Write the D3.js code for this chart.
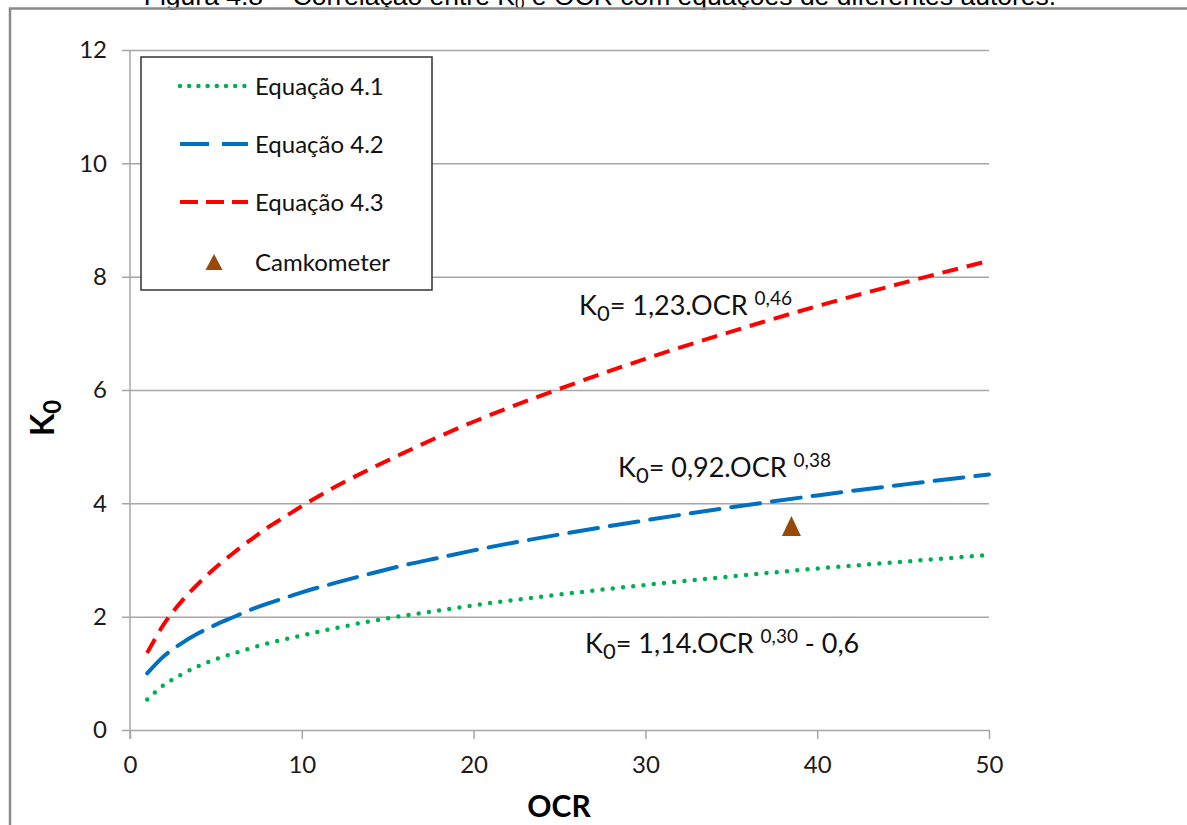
<!DOCTYPE html>
<html><head><meta charset="utf-8">
<script src="https://cdn.jsdelivr.net/npm/d3@7"></script>
<style>body{margin:0;background:#fff}svg{display:block}</style>
</head><body>
<svg id="c" width="1187" height="825"></svg>
<script>
// ---- data ----
const ocr   = [1, 2, 3, 4, 5, 6, 7, 8, 9, 10, 12, 14, 16, 18, 20, 25, 30, 35, 40, 45, 50];
const eq41  = [0.54, 0.80, 0.98, 1.13, 1.25, 1.35, 1.44, 1.53, 1.60, 1.67, 1.80, 1.92, 2.02, 2.11, 2.20, 2.39, 2.56, 2.71, 2.85, 2.97, 3.09];
const eq42  = [1.00, 1.31, 1.53, 1.71, 1.86, 1.99, 2.12, 2.23, 2.33, 2.43, 2.60, 2.76, 2.91, 3.04, 3.17, 3.45, 3.70, 3.93, 4.14, 4.33, 4.51];
const eq43  = [1.36, 1.88, 2.27, 2.59, 2.87, 3.12, 3.35, 3.57, 3.76, 3.95, 4.30, 4.61, 4.90, 5.18, 5.44, 6.02, 6.55, 7.03, 7.48, 7.89, 8.28];
const camOCR = [38.5];
const camK0  = [3.6];
const xTicks = [0, 10, 20, 30, 40, 50];
const yTicks = [0, 2, 4, 6, 8, 10, 12];
const legendLabels = ["Equação 4.1", "Equação 4.2", "Equação 4.3", "Camkometer"];

const svg = d3.select("#c");
const W = 1187, H = 825;
const FONT = "Lato, 'Open Sans', sans-serif";
svg.append("rect").attr("width", W).attr("height", H).attr("fill", "#fff");

const x = d3.scaleLinear().domain([0, 50]).range([130, 989]);
const y = d3.scaleLinear().domain([0, 12]).range([730, 50]);

// title (cut off at top, as in the reference)
const t = svg.append("text").attr("x", 600).attr("y", 5).attr("text-anchor", "middle")
  .style("font-family", "'Liberation Sans', Arial, sans-serif").style("font-size", "26.5px").attr("fill", "#000");
t.append("tspan").text("Figura 4.8 – Correlação entre K");
t.append("tspan").attr("dy", 4).style("font-size", "17px").text("0");
t.append("tspan").attr("dy", -4).text(" e OCR com equações de diferentes autores.");

// outer frame
svg.append("path").attr("d", "M10,825V8.5H1187").attr("fill", "none")
  .attr("stroke", "#8a8a8a").attr("stroke-width", 2.5);

// y grid + labels
const gy = svg.append("g").attr("transform", "translate(989,0)")
  .call(d3.axisLeft(y).tickValues(yTicks).tickSize(989 - 122).tickPadding(15).tickFormat(d3.format("d")));
gy.select(".domain").remove();
gy.selectAll("line").attr("stroke", "#a6a6a6").attr("stroke-width", 1.5);
gy.selectAll("text").style("font-family", FONT).style("font-size", "24px").attr("fill", "#1a1a1a");

// x ticks + labels
const gx = svg.append("g").attr("transform", "translate(0,730)")
  .call(d3.axisBottom(x).tickValues(xTicks).tickSize(9).tickPadding(17).tickFormat(d3.format("d")));
gx.select(".domain").remove();
gx.selectAll("line").attr("stroke", "#a6a6a6").attr("stroke-width", 1.5);
gx.selectAll("text").style("font-family", FONT).style("font-size", "24px").attr("fill", "#1a1a1a");

// y axis line
svg.append("line").attr("x1", x(0)).attr("x2", x(0)).attr("y1", y(12)).attr("y2", y(0) + 9)
  .attr("stroke", "#a6a6a6").attr("stroke-width", 1.5);

// axis titles
svg.append("text").attr("x", 559).attr("y", 817).attr("text-anchor", "middle")
  .style("font-family", FONT).style("font-weight", "bold").style("font-size", "30px").attr("fill", "#000").text("OCR");
const yt = svg.append("text").attr("transform", "translate(54,418) rotate(-90)").attr("text-anchor", "middle")
  .style("font-family", FONT).style("font-weight", "bold").style("font-size", "33px").attr("fill", "#000");
yt.append("tspan").text("K");
yt.append("tspan").attr("dy", 7).style("font-size", "24px").text("0");

// series
const series = [
  {vals: eq41, color: "#00b050", width: 4.5, dash: "0 10.3", cap: "round"},
  {vals: eq42, color: "#0070c0", width: 4,   dash: "29 12",  cap: "round"},
  {vals: eq43, color: "#ff0000", width: 4,   dash: "16 9",   cap: "butt"}
];
const line = d3.line().x(d => x(d[0])).y(d => y(d[1])).curve(d3.curveMonotoneX);
series.forEach(s => {
  svg.append("path").datum(ocr.map((o, i) => [o, s.vals[i]]))
    .attr("d", line).attr("fill", "none").attr("stroke", s.color)
    .attr("stroke-width", s.width).attr("stroke-dasharray", s.dash).attr("stroke-linecap", s.cap);
});

// camkometer point
svg.append("g").selectAll("path").data(camOCR.map((o, i) => [o, camK0[i]])).join("path")
  .attr("d", d => { const cx = x(d[0]), cy = y(d[1]); return `M${cx},${cy - 10}L${cx + 9.5},${cy + 10}L${cx - 9.5},${cy + 10}Z`; })
  .attr("fill", "#984807");

// annotations
function eqLabel(px, py, main, exp, tail) {
  const tx = svg.append("text").attr("x", px).attr("y", py)
    .style("font-family", FONT).style("font-size", "27px").attr("fill", "#111");
  tx.append("tspan").text("K");
  tx.append("tspan").attr("dy", 6).style("font-size", "22px").text("0");
  tx.append("tspan").attr("dy", -6).text(main);
  tx.append("tspan").attr("dy", -10).style("font-size", "19px").text(exp);
  if (tail) tx.append("tspan").attr("dy", 10).text(" - 0,6".slice(tail.startsWith(" ") ? 0 : 0));
}
eqLabel(579, 315, "= 1,23.OCR ", "0,46");
eqLabel(618, 477, "= 0,92.OCR ", "0,38");
eqLabel(585, 653, "= 1,14.OCR ", "0,30", "- 0,6");

// legend
const lg = svg.append("g");
lg.append("rect").attr("x", 141).attr("y", 57).attr("width", 291).attr("height", 233)
  .attr("fill", "#fff").attr("stroke", "#333").attr("stroke-width", 1.5);
const rowY = [86, 144, 202, 262];
series.forEach((s, i) => {
  lg.append("line").attr("x1", 180).attr("x2", 248).attr("y1", rowY[i]).attr("y2", rowY[i])
    .attr("stroke", s.color).attr("stroke-width", s.width)
    .attr("stroke-dasharray", i === 0 ? "0 9.2" : (i === 1 ? "29 13" : "18 8"))
    .attr("stroke-linecap", i === 0 ? "round" : "butt");
});
lg.append("path").attr("d", `M214,${rowY[3] - 8}L222.5,${rowY[3] + 8}L205.5,${rowY[3] + 8}Z`).attr("fill", "#984807");
lg.selectAll("text.lab").data(legendLabels).join("text").attr("class", "lab")
  .attr("x", 255).attr("y", (d, i) => rowY[i]).attr("dy", "0.36em")
  .style("font-family", FONT).style("font-size", "24px").attr("fill", "#111").text(d => d);
</script>
</body></html>
